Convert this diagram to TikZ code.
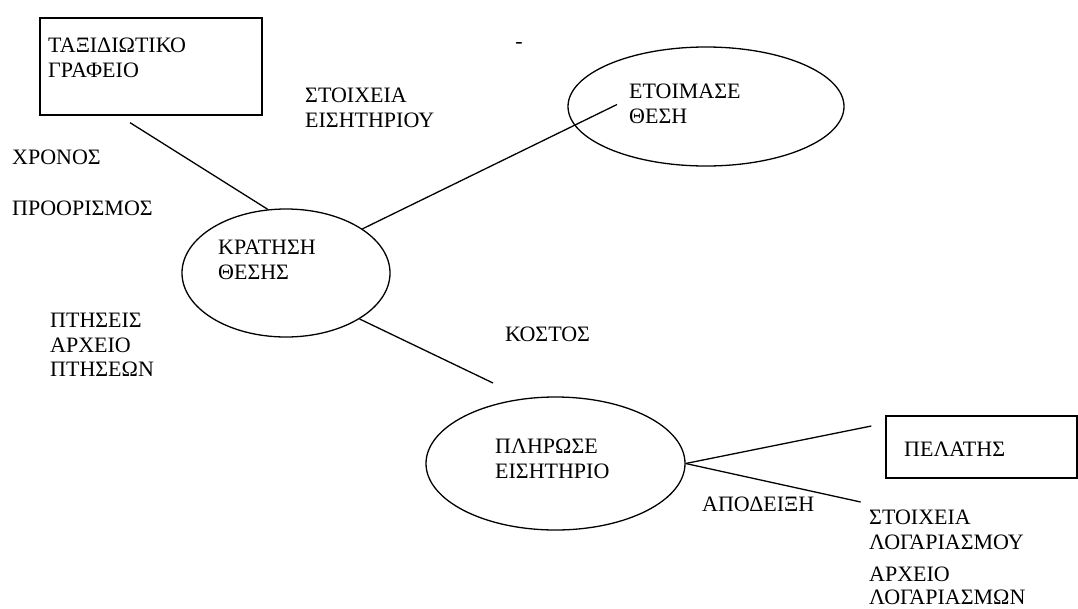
\documentclass[tikz,border=0pt]{standalone}
\usepackage{fontspec}
\setmainfont{Liberation Serif}
\usetikzlibrary{shapes, calc}
\tikzset{
  proc/.style={draw, ellipse, line width=1.3pt, inner sep=0pt},
  ent/.style={draw, rectangle, line width=1.3pt, inner sep=0pt},
  lbl/.style={anchor=north west, inner sep=0pt, align=left, font=\fontsize{22}{24.5}\selectfont},
  flow/.style={line width=1.3pt}
}

\begin{document}
\begin{tikzpicture}[x=1pt, y=-1pt]
  \useasboundingbox (0,0) rectangle (1078,608);
  % external entities
  \node[ent, minimum width=222pt, minimum height=97pt] (tg) at (151,66.5) {};
  \node[ent, minimum width=191pt, minimum height=62pt] (pe) at (981.5,447) {};
  % processes
  \node[proc, minimum width=208pt, minimum height=128pt] (kt) at (286,273) {};
  \node[proc, minimum width=276pt, minimum height=119pt] (et) at (706,106.5) {};
  \node[proc, minimum width=259pt, minimum height=133pt] (pl) at (555.5,463.5) {};
  % texts in shapes
  \node[lbl] (tg-t) at (48,38) {ΤΑΞΙΔΙΩΤΙΚΟ\\ΓΡΑΦΕΙΟ};
  \node[lbl] (pe-t) at (904,442) {ΠΕΛΑΤΗΣ};
  \node[lbl] (kt-t) at (218,240) {ΚΡΑΤΗΣΗ\\ΘΕΣΗΣ};
  \node[lbl] (et-t) at (629,84) {ΕΤΟΙΜΑΣΕ\\ΘΕΣΗ};
  \node[lbl] (pl-t) at (495,439) {ΠΛΗΡΩΣΕ\\ΕΙΣΗΤΗΡΙΟ};
  % data labels
  \node[lbl] (ei) at (305,88) {ΣΤΟΙΧΕΙΑ\\ΕΙΣΗΤΗΡΙΟΥ};
  \node[lbl] (xr) at (12,150) {ΧΡΟΝΟΣ};
  \node[lbl] (pr) at (12,201) {ΠΡΟΟΡΙΣΜΟΣ};
  \node[lbl] (pt) at (50,313) {ΠΤΗΣΕΙΣ\\ΑΡΧΕΙΟ\\ΠΤΗΣΕΩΝ};
  \node[lbl] (ko) at (505,327) {ΚΟΣΤΟΣ};
  \node[lbl] (ap) at (702,497) {ΑΠΟΔΕΙΞΗ};
  \node[lbl] (sl) at (869,510) {ΣΤΟΙΧΕΙΑ\\ΛΟΓΑΡΙΑΣΜΟΥ};
  \node[lbl, font=\fontsize{22}{23}\selectfont] (al) at (869,567) {ΑΡΧΕΙΟ\\ΛΟΓΑΡΙΑΣΜΩΝ};
  \node[lbl, anchor=center] (dash) at (519,45) {-};
  % flows
  \coordinate (tg-o) at ($(tg.south)+(-21,7)$);
  \draw[flow] (tg-o) -- (kt.106);
  \coordinate (et-i) at ($(et.center)+(-89,-2)$);
  \draw[flow] (kt.30) -- (et-i);
  \coordinate (pl-i) at ($(pl.center)+(-62.5,-80.5)$);
  \draw[flow] (kt.328) -- (pl-i);
  \coordinate (pe-i) at ($(pe.west)+(-14,-21)$);
  \draw[flow] (pl.east) -- (pe-i);
  \coordinate (sl-i) at ($(pl.east)+(175,38.5)$);
  \draw[flow] (pl.east) -- (sl-i);
\end{tikzpicture}
\end{document}
